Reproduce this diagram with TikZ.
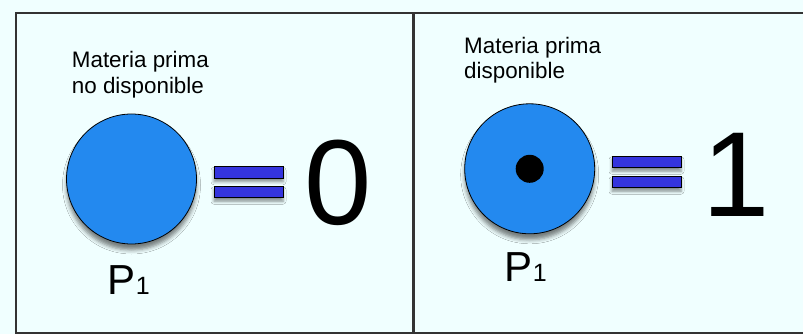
\documentclass[tikz,border=0pt]{standalone}
\usepackage{fontspec}
\setmainfont{Liberation Sans}
\usetikzlibrary{positioning,shadows.blur}
\definecolor{panelbg}{HTML}{F0FFFF}
\definecolor{frameink}{HTML}{333333}
\definecolor{discfill}{HTML}{2389EF}
\definecolor{barfill}{HTML}{3434DD}
\tikzset{
  % ---- panels and labels ----------------------------------------------
  pframe/.style={draw=frameink, line width=1.4pt},
  pnote/.style={inner sep=0pt, anchor=base west, align=left,
    font=\fontsize{22.4}{25.8}\selectfont},
  pname/.style={inner sep=0pt, anchor=base west,
    font=\fontsize{42}{42}\selectfont},
  pvalue/.style={inner sep=0pt, anchor=base west,
    font=\fontsize{121}{121}\selectfont},
  % ---- disc and the equals sign ---------------------------------------
  pdisc/.style={circle, draw=black, line width=0.8pt, fill=discfill,
    minimum size=130pt, inner sep=0pt,
    blur shadow={shadow xshift=0pt, shadow yshift=-6pt,
      shadow blur radius=4pt, shadow opacity=50}},
  pdot/.style={circle, fill=black, minimum size=28pt, inner sep=0pt},
  pbar/.style={rectangle, draw=black, line width=0.6pt, fill=barfill,
    minimum width=69pt, minimum height=11.5pt, inner sep=0pt,
    blur shadow={shadow xshift=0pt, shadow yshift=-3.5pt,
      shadow blur radius=3pt, shadow opacity=45}},
}
\newcommand{\subone}{{\fontsize{25}{25}\selectfont 1}}

\begin{document}
\begin{tikzpicture}[x=1pt, y=-1pt]

\useasboundingbox (0,0) rectangle (803,334);
\fill[panelbg] (0,0) rectangle (803,334);

% ---- frames ------------------------------------------------------------
\draw[pframe] (16,13) rectangle (413,333);
\draw[pframe] (806,13) -- (414.5,13) -- (414.5,333) -- (806,333);

% ---- left panel: not available ---------------------------------------
\node[pnote] (noteA) at (71.7,93.3) {Materia prima\\no disponible};
\node[pdisc] (discA) at (131.5,179) {};
\node[pbar] (barAa) at (248.5,172.5) {};
\node[pbar] (barAb) at (248.5,192) {};
\node[pvalue] (valA) at (304.5,224) {0};
\node[pname] (nameA) at (107.6,294.3) {P\subone};

% ---- right panel: available ------------------------------------------
\node[pnote] (noteB) at (464,79) {Materia prima\\disponible};
\node[pdisc] (discB) at (529.7,168.8) {};
\node[pdot] (dotB) at (discB.center) {};
\node[pbar] (barBa) at (646.5,162) {};
\node[pbar] (barBb) at (646.5,182) {};
\node[pvalue] (valB) at (702,216) {1};
\node[pname] (nameB) at (504.6,281.7) {P\subone};

\end{tikzpicture}
\end{document}
